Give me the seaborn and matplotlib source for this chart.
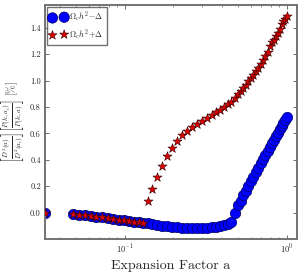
import numpy as np
import pandas as pd
import matplotlib
matplotlib.use("Agg")
import matplotlib.pyplot as plt
import seaborn as sns

# expansion factor grid
a_vals = [0.0323,
          0.0481, 0.0524, 0.0568, 0.0618, 0.0670, 0.0729, 0.0790, 0.0852, 0.0923, 0.0990,
          0.1063, 0.1141, 0.1224, 0.1303, 0.1391, 0.1486, 0.1589, 0.1705, 0.1830, 0.1965,
          0.2108, 0.2263, 0.2429, 0.2607, 0.2798, 0.3003, 0.3223, 0.3459, 0.3677, 0.3890,
          0.4118, 0.4339, 0.4548, 0.4811, 0.5043, 0.5217, 0.5412, 0.5598, 0.5808, 0.6033,
          0.6250, 0.6476, 0.6709, 0.6950, 0.7181, 0.7408, 0.7643, 0.7897, 0.8121, 0.8354,
          0.8595, 0.8841, 0.9095, 0.9318, 0.9530, 0.9761, 1.0000]

# Omega_c h^2 - Delta
minus_vals = [0.0,
              -0.012, -0.017, -0.022, -0.027, -0.032, -0.037, -0.042, -0.047, -0.053, -0.058,
              -0.063, -0.068, -0.073, -0.078, -0.081, -0.087, -0.093, -0.098, -0.104, -0.108,
              -0.112, -0.115, -0.117, -0.118, -0.118, -0.117, -0.115, -0.112, -0.108, -0.103,
              -0.097, -0.088, -0.068, -0.004, 0.058, 0.09, 0.134, 0.167, 0.20, 0.236,
              0.27, 0.305, 0.34, 0.373, 0.405, 0.435, 0.465, 0.497, 0.524, 0.551,
              0.578, 0.606, 0.633, 0.656, 0.679, 0.702, 0.727]

# Omega_c h^2 + Delta
plus_vals = [0.0,
             -0.012, -0.017, -0.022, -0.027, -0.032, -0.037, -0.042, -0.047, -0.053, -0.058,
             -0.063, -0.068, -0.073, -0.078, 0.085, 0.175, 0.27, 0.355, 0.43, 0.49,
             0.54, 0.585, 0.618, 0.645, 0.674, 0.697, 0.718, 0.742, 0.763, 0.778,
             0.798, 0.82, 0.838, 0.865, 0.895, 0.918, 0.945, 0.97, 0.995, 1.02,
             1.045, 1.07, 1.095, 1.125, 1.157, 1.19, 1.22, 1.26, 1.29, 1.31,
             1.34, 1.36, 1.39, 1.43, 1.45, 1.47, 1.49]

df = pd.DataFrame({"a": a_vals, "minus": minus_vals, "plus": plus_vals})

sns.set_style("ticks")
plt.rcParams["font.family"] = ["cmr10", "DejaVu Serif"]
plt.rcParams["mathtext.fontset"] = "cm"
plt.rcParams["axes.formatter.use_mathtext"] = True
plt.rcParams["axes.unicode_minus"] = False

fig = plt.figure(figsize=(3.0, 2.75), dpi=100)
ax = fig.add_axes([0.15, 0.131, 0.84, 0.851])

sns.scatterplot(data=df, x="a", y="minus", ax=ax, marker="o", s=56,
                color="#0000ff", edgecolor="#000060", linewidth=0.5,
                label=r"$\Omega_c h^2\!-\!\Delta$", zorder=2)
sns.scatterplot(data=df, x="a", y="plus", ax=ax, marker="*", s=48,
                color="#dd0000", edgecolor="#300000", linewidth=0.4,
                label=r"$\Omega_c h^2\!+\!\Delta$", zorder=3)

ax.set_xscale("log")
ax.set_xlim(0.0323, 1.16)
ax.set_ylim(-0.2, 1.573)
ax.set_yticks([0.0, 0.2, 0.4, 0.6, 0.8, 1.0, 1.2, 1.4])
ax.set_yticklabels(["0.0", "0.2", "0.4", "0.6", "0.8", "1.0", "1.2", "1.4"])

ax.set_xlabel("Expansion Factor a", fontsize=10, labelpad=3)
ax.set_ylabel(r"$\left[\frac{D^2(a)}{D^2(a_i)}\right]\left[\frac{P(k,a_i)}{P(k,a)}\right]$ [%]",
              fontsize=7.3)
ax.yaxis.set_label_coords(-0.072, 0.5)

for side in ["left", "right", "top", "bottom"]:
    ax.spines[side].set_visible(True)
    ax.spines[side].set_color("0.45")
    ax.spines[side].set_linewidth(1.4)

ax.tick_params(which="both", direction="in", top=True, right=True,
               labelsize=6, color="0.2", pad=3)
ax.tick_params(which="major", length=3, width=0.5)
ax.tick_params(which="minor", length=1.6, width=0.4)

leg = ax.legend(loc="upper left", scatterpoints=2, fontsize=6, frameon=True,
                fancybox=False, borderpad=0.35, handletextpad=0.3,
                labelspacing=0.35, borderaxespad=0.25)
leg.get_frame().set_edgecolor("0.3")
leg.get_frame().set_linewidth(1.0)

fig.savefig("out.png", dpi=100)
